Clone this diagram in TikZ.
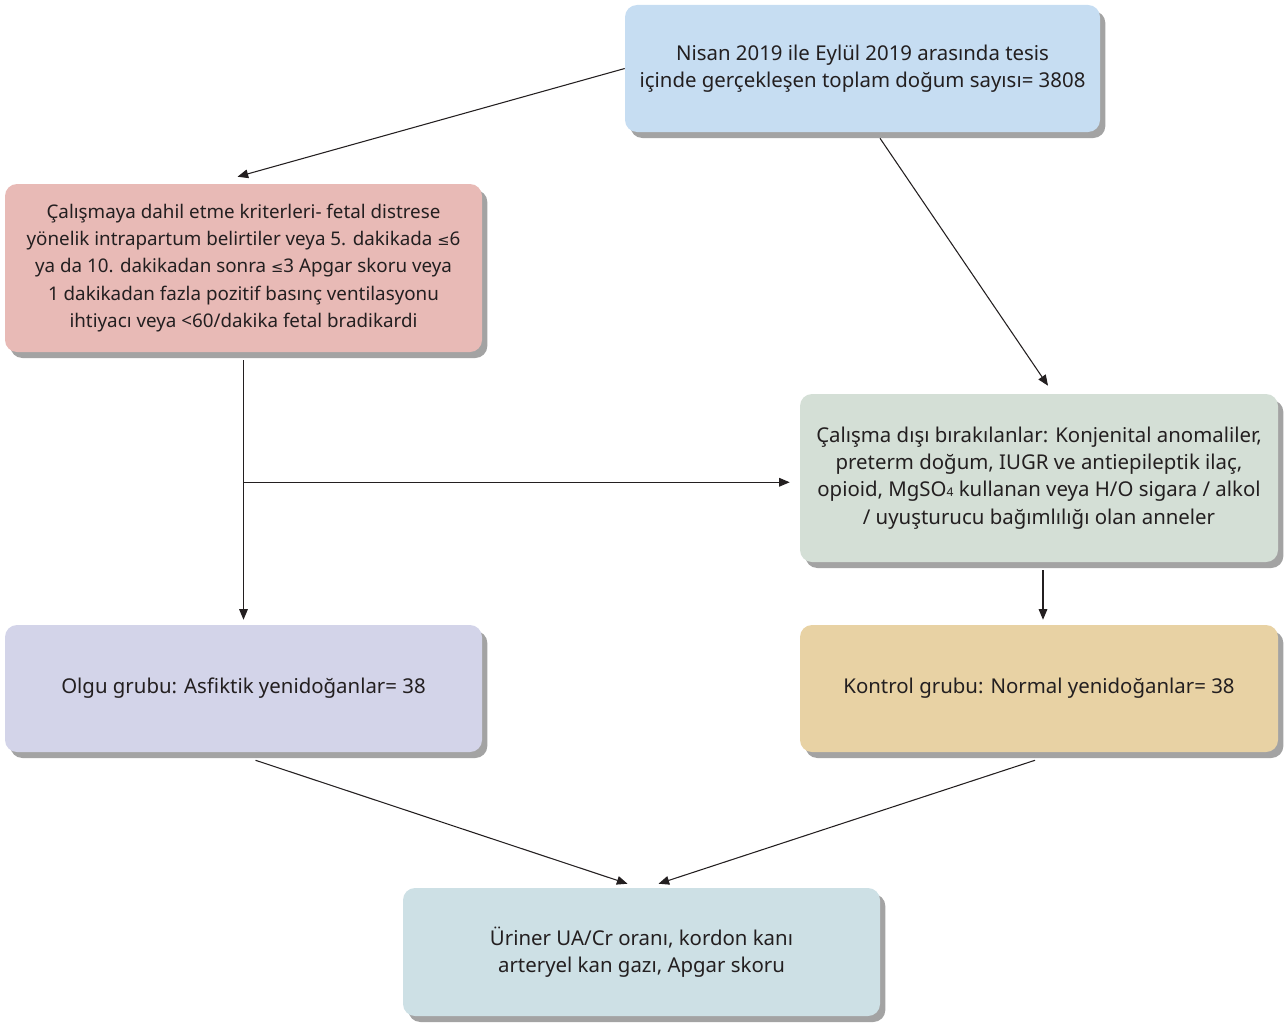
\documentclass[tikz,border=0pt]{standalone}
\usepackage{fontspec}
\setmainfont{Noto Sans}
\newfontfamily\symfont{DejaVu Sans}
\usetikzlibrary{arrows.meta,calc,shadows}
\definecolor{cblue}{HTML}{C6DDF2}
\definecolor{cred}{HTML}{E8BAB6}
\definecolor{cgreen}{HTML}{D4DFD6}
\definecolor{clav}{HTML}{D3D4E9}
\definecolor{ctan}{HTML}{E8D2A4}
\definecolor{cbot}{HTML}{CDE0E5}
\definecolor{cshadow}{HTML}{A3A3A3}
\definecolor{ctext}{HTML}{231F20}
\newcommand{\myle}{{\symfont\fontsize{11}{11}\selectfont ≤}}
\tikzset{
  box/.style={rectangle, rounded corners=9pt, draw=none, align=center,
    text=ctext, font=\fontsize{15.3}{20.4}\selectfont, inner sep=0pt,
    drop shadow={shadow xshift=4pt, shadow yshift=-4.5pt, fill=cshadow, opacity=1}},
  conn/.style={draw=ctext, line width=0.8pt, -{Triangle[length=8pt,width=6.5pt]}},
  plain/.style={draw=ctext, line width=0.8pt}
}
\begin{document}
\begin{tikzpicture}[x=0.75pt,y=-0.75pt]
\useasboundingbox (0,0) rectangle (1287,1024);
\node[box, fill=cblue, minimum width=356.25pt, minimum height=95.25pt] (n1) at (862.5,68.5)
  {Nisan 2019 ile Eylül 2019 arasında tesis\\içinde gerçekleşen toplam doğum sayısı= 3808};
\node[box, fill=cred, minimum width=357.75pt, minimum height=126pt, font=\fontsize{14.1}{20.4}\selectfont] (n2) at (243.5,268)
  {Çalışmaya dahil etme kriterleri- fetal distrese\\yönelik intrapartum belirtiler veya 5. dakikada \myle6\\ya da 10. dakikadan sonra \myle3 Apgar skoru veya\\1 dakikadan fazla pozitif basınç ventilasyonu\\ihtiyacı veya <60/dakika fetal bradikardi};
\node[box, fill=cgreen, minimum width=358.5pt, minimum height=126pt] (n3) at (1039,478)
  {Çalışma dışı bırakılanlar: Konjenital anomaliler,\\preterm doğum, IUGR ve antiepileptik ilaç,\\opioid, MgSO{\fontsize{9}{9}\selectfont 4} kullanan veya H/O sigara / alkol\\/ uyuşturucu bağımlılığı olan anneler};
\node[box, fill=clav, minimum width=357.75pt, minimum height=95.25pt] (n4) at (243.5,688.5)
  {Olgu grubu: Asfiktik yenidoğanlar= 38};
\node[box, fill=ctan, minimum width=358.5pt, minimum height=95.25pt] (n5) at (1039,688.5)
  {Kontrol grubu: Normal yenidoğanlar= 38};
\node[box, fill=cbot, minimum width=357.75pt, minimum height=96pt] (n6) at (641.5,952)
  {Üriner UA/Cr oranı, kordon kanı\\arteryel kan gazı, Apgar skoru};
% connectors
\draw[conn] (n1.west) -- ($(n2.north)+(-6,-7)$);
\draw[conn] ($(n1.south)+(17.5,6)$) -- ($(n3.north)+(9,-8)$);
\coordinate (br) at ($(n2.south)+(0,130)$);
\draw[plain] ($(n2.south)+(0,8)$) -- (br);
\draw[conn] (br) -- ($(n4.north)+(0,-5)$);
\draw[conn] (br) -- ($(br -| n3.west)+(-10,0)$);
\draw[conn] ($(n3.south)+(4,8)$) -- ($(n5.north)+(4,-5)$);
\draw[conn] ($(n4.south)+(12,8)$) -- ($(n6.north)+(-14,-4)$);
\draw[conn] ($(n5.south)+(-4,8)$) -- ($(n6.north)+(17,-4)$);
\end{tikzpicture}
\end{document}
